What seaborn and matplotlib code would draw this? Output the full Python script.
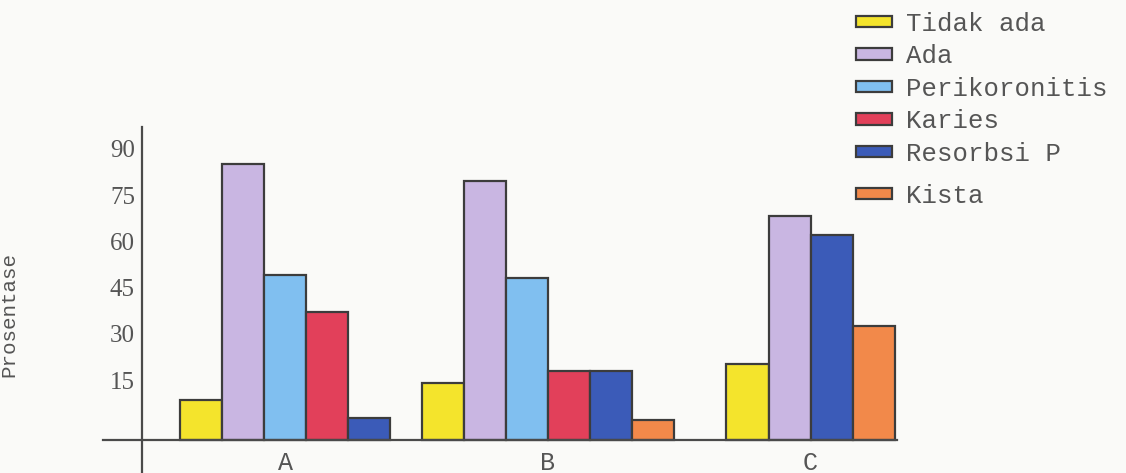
import numpy as np
import pandas as pd
import matplotlib
matplotlib.use("Agg")
import matplotlib.pyplot as plt
from matplotlib.patches import Patch
import seaborn as sns

# Data
kelompok = ["A", "B", "C"]
kategori = ["Tidak ada", "Ada", "Perikoronitis", "Karies", "Resorbsi P", "Kista"]
tidak_ada = [13.0, 18.5, 24.5]
ada = [89.5, 84.0, 72.5]
perikoronitis = [53.5, 52.5, np.nan]
karies = [41.5, 22.5, np.nan]
resorbsi_p = [7.0, 22.5, 66.5]
kista = [np.nan, 6.5, 37.0]
y_ticks = [15, 30, 45, 60, 75, 90]

warna = ["#f4e42c", "#c9b6e2", "#80bff0", "#e2405a", "#3b5bb8", "#f2894a"]

nilai = [tidak_ada, ada, perikoronitis, karies, resorbsi_p, kista]
rows = []
for kat, vals in zip(kategori, nilai):
    for g, v in zip(kelompok, vals):
        rows.append({"kelompok": g, "kategori": kat, "nilai": v})
df = pd.DataFrame(rows).dropna()

sns.set_theme(style="white")
bg = "#fafaf8"
teks = "#555555"
garis = "#3c3c3c"

fig = plt.figure(figsize=(11.26, 4.73), dpi=100, facecolor=bg)
ax = fig.add_axes([103 / 1126, 0.0, 794 / 1126, 346 / 473])
ax.set_facecolor(bg)

palet = dict(zip(kategori, warna))
lebar_batang = 0.16
for g in kelompok:
    sub = df[df["kelompok"] == g]
    ada_kat = [k for k in kategori if k in set(sub["kategori"])]
    sns.barplot(data=sub, x="kelompok", y="nilai", hue="kategori",
                order=kelompok, hue_order=ada_kat, palette=palet,
                width=lebar_batang * len(ada_kat), dodge=True,
                edgecolor=garis, linewidth=1.6, saturation=1,
                legend=False, ax=ax)

ax.set_xlim(-0.693, 2.329)
ax.set_ylim(-10.7, 101.5)

for s in ["top", "right"]:
    ax.spines[s].set_visible(False)
ax.spines["bottom"].set_position(("data", 0))
ax.spines["left"].set_position(("axes", 0.049))
for s in ["bottom", "left"]:
    ax.spines[s].set_color("#4a4a4a")
    ax.spines[s].set_linewidth(1.6)

ax.set_yticks(y_ticks)
ax.set_yticklabels([str(t) for t in y_ticks], fontfamily="Liberation Serif",
                   fontsize=18, color=teks, va="bottom")
ax.tick_params(axis="y", length=0, pad=5)
ax.set_xticks(range(len(kelompok)))
ax.set_xticklabels(kelompok, fontfamily="Liberation Mono", fontsize=18, color=teks)
ax.tick_params(axis="x", length=0, pad=8)

ax.set_xlabel("")
ax.set_ylabel("Prosentase", fontfamily="Liberation Mono", fontsize=15, color=teks)
ax.yaxis.set_label_coords(-0.107, 0.457)

# Legend: the first five entries stacked, "Kista" set a little apart below
handles = [Patch(facecolor=c, edgecolor=garis, linewidth=1.6) for c in warna]
leg_kw = dict(loc="upper left", frameon=False,
              prop={"family": "Liberation Mono", "size": 18.5},
              handlelength=1.4, handleheight=0.3, handletextpad=0.55,
              labelspacing=0.33, borderpad=0, borderaxespad=0)
leg1 = fig.legend(handles[:5], kategori[:5],
                  bbox_to_anchor=(856 / 1126, 0.975), **leg_kw)
leg2 = fig.legend(handles[5:], kategori[5:],
                  bbox_to_anchor=(856 / 1126, 0.6116), **leg_kw)
for leg in (leg1, leg2):
    for t in leg.get_texts():
        t.set_color(teks)

fig.savefig("out.png", dpi=100, facecolor=bg)
